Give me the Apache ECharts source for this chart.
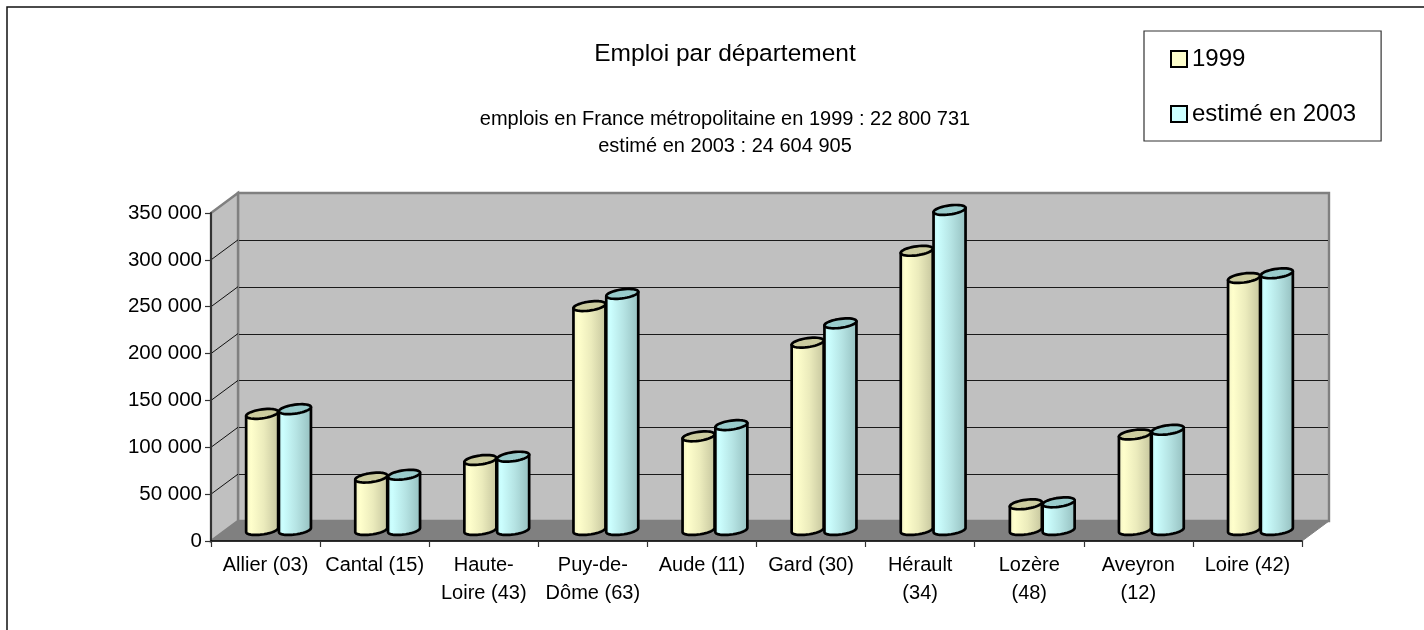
<!DOCTYPE html>
<html>
<head>
<meta charset="utf-8">
<script src="https://cdn.jsdelivr.net/npm/echarts@6/dist/echarts.min.js"></script>
<style>html,body{margin:0;padding:0;background:#fff}#c{width:1424px;height:630px}</style>
</head>
<body>
<div id="c"></div>
<script>
const categories = ['Allier (03)','Cantal (15)','Haute-\nLoire (43)','Puy-de-\nDôme (63)','Aude (11)','Gard (30)','Hérault\n(34)','Lozère\n(48)','Aveyron\n(12)','Loire (42)'];
const values1999 = [125000,57000,75800,240000,101000,201000,299000,28500,103000,270000];
const values2003 = [130000,60000,79300,253000,113000,221600,342600,30600,108000,275000];
const yTicks = [0,50000,100000,150000,200000,250000,300000,350000];
const titleText = 'Emploi par département';
const subText = 'emplois en France métropolitaine en 1999 : 22 800 731\nestimé en 2003 : 24 604 905';

const FONT = '"Liberation Sans", Arial, sans-serif';
const DX = 27, DY = -20;             // depth of the 3D box
const MX = 13, MY = -10;             // bars stand mid-depth
const RX = 16, RY = 4.5, SK = 0.13;  // cylinder section

function ell(cx, cy, from, to, n) {
  const pts = [];
  for (let k = 0; k <= n; k++) {
    const t = from + (to - from) * k / n;
    const ex = RX * Math.cos(t);
    pts.push([cx + ex, cy + RY * Math.sin(t) - SK * ex]);
  }
  return pts;
}
function grad(stops) {
  return new echarts.graphic.LinearGradient(0, 0, 1, 0, stops.map(s => ({offset: s[0], color: s[1]})));
}
function cylinderSeries(name, values, side, flat, topFill, stops) {
  return {
    name, type: 'custom', z: 3, coordinateSystem: 'cartesian2d',
    encode: {x: 0, y: 1},
    itemStyle: {color: flat},
    data: values.map((v, i) => [i, v]),
    renderItem(params, api) {
      const i = api.value(0), v = api.value(1);
      const top = api.coord([i, v]), base = api.coord([i, 0]);
      const cx = top[0] + MX + side * 16.4;
      const yT = top[1] + MY, yB = base[1] + MY - 1;
      const lower = ell(cx, yB, Math.PI, 0, 28);
      const body = [[cx - RX, yT + SK * RX]].concat(lower, [[cx + RX, yT - SK * RX]]);
      const line = {stroke: '#000', lineWidth: 2.7, lineJoin: 'round'};
      return {type: 'group', children: [
        {type: 'polygon', shape: {points: body}, style: Object.assign({fill: grad(stops)}, line)},
        {type: 'polygon', shape: {points: ell(cx, yT, 0, Math.PI * 2, 40)}, style: Object.assign({fill: topFill}, line)}
      ]};
    }
  };
}

const wallSeries = {
  name: 'walls', type: 'custom', z: 1, coordinateSystem: 'cartesian2d', silent: true,
  encode: {x: 0, y: 1},
  data: yTicks.map(v => [0, v]),
  renderItem(params, api) {
    const g = params.coordSys;
    const L = g.x, R = g.x + g.width, T = g.y, B = g.y + g.height;
    const v = api.value(1);
    const y = api.coord([0, v])[1];
    const children = [];
    if (params.dataIndex === 0) {
      children.push(
        {type: 'polygon', shape: {points: [[L + DX, T + DY], [R + DX, T + DY], [R + DX, B + DY], [L + DX, B + DY]]}, style: {fill: '#C0C0C0', stroke: '#808080', lineWidth: 2.4}},
        {type: 'polygon', shape: {points: [[L, T], [L + DX, T + DY], [L + DX, B + DY], [L, B]]}, style: {fill: '#C0C0C0', stroke: '#808080', lineWidth: 2.4}},
        {type: 'polygon', shape: {points: [[L, B], [L + DX, B + DY], [R + DX, B + DY], [R, B]]}, style: {fill: '#808080', stroke: '#808080', lineWidth: 1}}
      );
    }
    if (v > 0 && v !== yTicks[yTicks.length - 1]) {
      const gy = Math.round(y + DY) + 0.5;
      children.push({type: 'line', shape: {x1: L + DX + 1, y1: gy, x2: R + DX - 1, y2: gy}, style: {stroke: '#1a1a1a', lineWidth: 1.2}});
      children.push({type: 'line', shape: {x1: L, y1: y, x2: L + DX, y2: y + DY}, style: {stroke: '#111', lineWidth: 1}});
    }
    return {type: 'group', children};
  }
};

const chart = echarts.init(document.getElementById('c'), null, {renderer: 'canvas'});
chart.setOption({
  animation: false,
  backgroundColor: '#fff',
  textStyle: {fontFamily: FONT},
  graphic: [{type: 'rect', z: -1, silent: true, shape: {x: 7, y: 7, width: 1600, height: 800}, style: {fill: 'none', stroke: '#111', lineWidth: 1.5}}],
  title: {
    text: titleText, subtext: subText, left: 725, top: 40, padding: 0, textAlign: 'center', itemGap: 38,
    textStyle: {fontFamily: FONT, fontSize: 24.5, fontWeight: 'normal', color: '#000', lineHeight: 28},
    subtextStyle: {fontFamily: FONT, fontSize: 20, color: '#000', lineHeight: 27, align: 'center'}
  },
  legend: {
    orient: 'vertical', left: 1144, top: 31, data: ['1999', 'estimé en 2003'],
    icon: 'rect', itemWidth: 16, itemHeight: 16, itemGap: 31,
    padding: [16, 25, 15, 26], borderColor: '#333', borderWidth: 1.2, backgroundColor: '#fff',
    itemStyle: {borderColor: '#000', borderWidth: 2},
    textStyle: {fontFamily: FONT, fontSize: 24, color: '#000'},
    selectedMode: false
  },
  grid: {left: 211, right: 122, top: 213, bottom: 89},
  xAxis: {
    type: 'category', data: categories, z: 5,
    axisLine: {lineStyle: {color: '#000', width: 1.5}},
    axisTick: {show: true, length: 6, alignWithLabel: false, lineStyle: {color: '#333', width: 1.2}},
    axisLabel: {interval: 0, color: '#000', fontFamily: FONT, fontSize: 20, lineHeight: 28, margin: 10, hideOverlap: false},
    splitLine: {show: false}
  },
  yAxis: {
    type: 'value', min: 0, max: 350000, interval: 50000, z: 5,
    axisLine: {show: true, lineStyle: {color: '#333', width: 2}},
    axisTick: {show: true, length: 6, lineStyle: {color: '#333', width: 1.2}},
    axisLabel: {color: '#000', fontFamily: FONT, fontSize: 20.5, margin: 9,
      formatter: v => String(v).replace(/\B(?=(\d{3})+$)/g, ' ')},
    splitLine: {show: false}
  },
  series: [
    wallSeries,
    cylinderSeries('1999', values1999, -1, '#FFFFCC', '#CCCC9F', [[0, '#EFEFC2'], [0.18, '#FFFFCC'], [0.55, '#EBEBBC'], [1, '#C4C49D']]),
    cylinderSeries('estimé en 2003', values2003, 1, '#CCFFFF', '#99CCCC', [[0, '#BFEFEF'], [0.15, '#CCFFFF'], [0.55, '#B5E3E3'], [1, '#94BEBE']])
  ]
});
</script>
</body>
</html>
